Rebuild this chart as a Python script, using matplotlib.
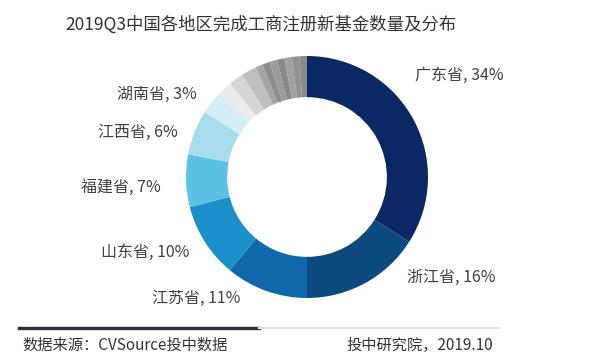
import matplotlib
matplotlib.use('Agg')
import matplotlib.pyplot as plt
from matplotlib.lines import Line2D

plt.rcParams['font.family'] = ['Noto Sans CJK SC', 'DejaVu Sans']

# data
provinces = ['广东省', '浙江省', '江苏省', '山东省', '福建省', '江西省', '湖南省']
shares = [34, 16, 11, 10, 7, 6, 3]
other_shares = [2, 2, 2, 1, 1, 1, 1, 1, 1, 1]

colors = ['#0a2864', '#0d4a80', '#0f68aa', '#1a8fc9', '#5cc1e3', '#a6dcec', '#d3eef5']
other_colors = ['#ececec', '#d6d6d6', '#bfbfbf', '#a4a4a4', '#8e8e8e', '#9c9c9c',
                '#898989', '#a0a0a0', '#929292', '#8a8a8a']

# label anchors (data units, radius 1 = outer ring)
label_pos = [(0.89, 0.84, 'left'), (0.83, -0.83, 'left'), (-0.55, -1.0, 'right'),
             (-0.97, -0.62, 'right'), (-1.21, -0.09, 'right'), (-1.07, 0.37, 'right'),
             (-0.91, 0.68, 'right')]

W, H = 600, 360
cx, cy, r = 307, 183, 121

fig = plt.figure(figsize=(W / 100, H / 100), dpi=100)
ax = fig.add_axes([0, 0, 1, 1])

ax.pie(shares + other_shares, colors=colors + other_colors, startangle=90,
       counterclock=False, radius=1, wedgeprops=dict(width=0.34, linewidth=0))

ax.set_aspect('auto')
ax.set_xlim(-cx / r, (W - cx) / r)
ax.set_ylim(-cy / r, (H - cy) / r)
ax.axis('off')

for name, val, (x, y, ha) in zip(provinces, shares, label_pos):
    ax.text(x, y, f'{name}, {val}%', ha=ha, va='center', fontsize=11.5, color='#404040')

fig.text(261 / W, 1 - 25 / H, '2019Q3中国各地区完成工商注册新基金数量及分布',
         ha='center', va='center', fontsize=12.5, color='#333333')

# footer rules
fig.add_artist(Line2D([19 / W, 259 / W], [1 - 328 / H] * 2, color='#2b2f3a', lw=2.4))
fig.add_artist(Line2D([259 / W, 500 / W], [1 - 328 / H] * 2, color='#e2e4e6', lw=1.6))

fig.text(22 / W, 1 - 345 / H, '数据来源：CVSource投中数据', ha='left', va='center',
         fontsize=11, color='#333333')
fig.text(493 / W, 1 - 345 / H, '投中研究院，2019.10', ha='right', va='center',
         fontsize=11, color='#333333')

fig.savefig('out.png', dpi=100)
